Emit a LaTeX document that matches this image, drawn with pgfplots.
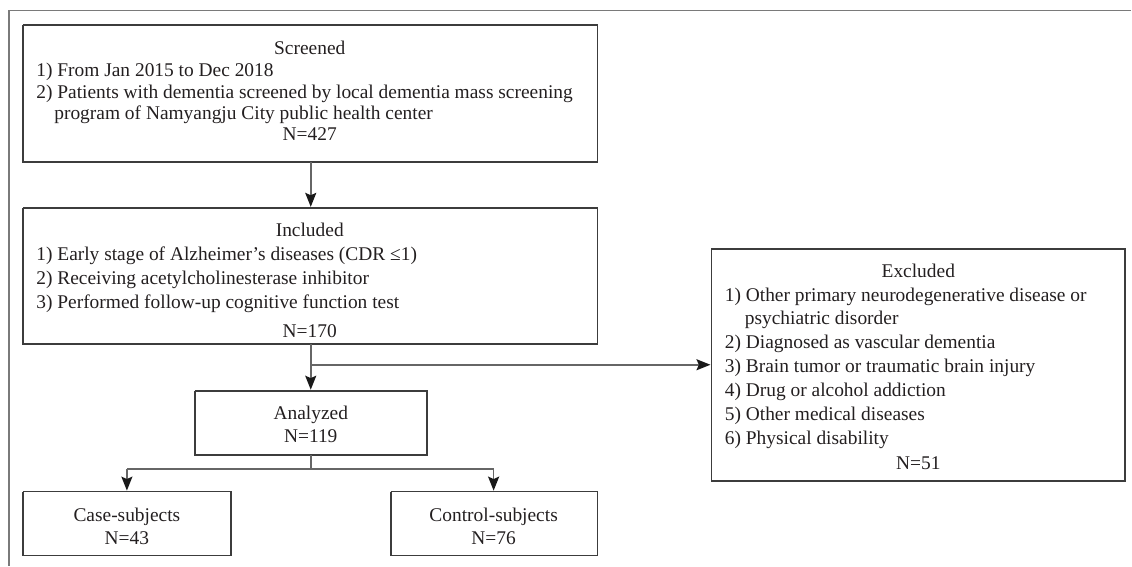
\documentclass[border=0pt]{standalone}
\usepackage{pgfplots}
\pgfplotsset{compat=1.18}
\usepackage{fontspec}
\setmainfont{Liberation Serif}
\usetikzlibrary{arrows.meta}
\definecolor{boxc}{HTML}{3C3C3C}
\definecolor{linec}{HTML}{666666}
\definecolor{framec}{HTML}{7A7A7A}
\definecolor{txt}{HTML}{231F20}
\newcommand{\fs}{\fontsize{9.75}{11}\selectfont}
\tikzset{
  boxstyle/.style={draw=boxc, line width=0.85bp, mark=none, line join=miter},
  conn/.style={draw=linec, line width=0.85bp, mark=none},
  arr/.style={draw=linec, line width=0.85bp, mark=none, -{Stealth[length=7bp,width=5.5bp,inset=1.2bp,color=black!90]}},
  txtn/.style={font=\fs, text=txt, inner sep=0pt},
}
\begin{document}
\begin{tikzpicture}
\begin{axis}[
  width=566bp, height=283bp, scale only axis,
  xmin=0, xmax=1132, ymin=0, ymax=566, y dir=reverse,
  hide axis, clip=false,
]
\path (axis cs:0,0) rectangle (axis cs:1132,566);
% outer frame
\addplot[draw=framec, line width=0.85bp, mark=none] coordinates {(9,566) (9,10.5) (1132,10.5)};
% boxes
\addplot[boxstyle] coordinates {(23,25) (598,25) (598,162) (23,162) (23,25)};
\addplot[boxstyle] coordinates {(23,208) (598,208) (598,344) (23,344) (23,208)};
\addplot[boxstyle] coordinates {(712,249) (1126,249) (1126,481) (712,481) (712,249)};
\addplot[boxstyle] coordinates {(195,391) (427,391) (427,455) (195,455) (195,391)};
\addplot[boxstyle] coordinates {(23,492) (231,492) (231,556) (23,556) (23,492)};
\addplot[boxstyle] coordinates {(391,492) (598,492) (598,556) (391,556) (391,492)};
% connectors
\addplot[arr] coordinates {(311,162) (311,207)};
\addplot[arr] coordinates {(311,344) (311,390)};
\addplot[arr] coordinates {(311,365) (711,365)};
\addplot[conn] coordinates {(311,455) (311,469)};
\addplot[conn] coordinates {(127,469) (494,469)};
\addplot[arr] coordinates {(127,469) (127,491)};
\addplot[arr] coordinates {(494,469) (494,491)};
% Screened
\node[txtn, anchor=base] at (axis cs:310,55) {Screened};
\node[txtn, anchor=base west] at (axis cs:36,77) {1) From Jan 2015 to Dec 2018};
\node[txtn, anchor=base west] at (axis cs:36,99) {2) Patients with dementia screened by local dementia mass screening};
\node[txtn, anchor=base west] at (axis cs:54,120) {program of Namyangju City public health center};
\node[txtn, anchor=base] at (axis cs:310,141) {N=427};
% Included
\node[txtn, anchor=base] at (axis cs:310,237) {Included};
\node[txtn, anchor=base west] at (axis cs:36,261) {1) Early stage of Alzheimer’s diseases (CDR ≤1)};
\node[txtn, anchor=base west] at (axis cs:36,285) {2) Receiving acetylcholinesterase inhibitor};
\node[txtn, anchor=base west] at (axis cs:36,309) {3) Performed follow-up cognitive function test};
\node[txtn, anchor=base] at (axis cs:310,338) {N=170};
% Excluded
\node[txtn, anchor=base] at (axis cs:919,278) {Excluded};
\node[txtn, anchor=base west] at (axis cs:725,302) {1) Other primary neurodegenerative disease or};
\node[txtn, anchor=base west] at (axis cs:745,325) {psychiatric disorder};
\node[txtn, anchor=base west] at (axis cs:725,349) {2) Diagnosed as vascular dementia};
\node[txtn, anchor=base west] at (axis cs:725,373) {3) Brain tumor or traumatic brain injury};
\node[txtn, anchor=base west] at (axis cs:725,397) {4) Drug or alcohol addiction};
\node[txtn, anchor=base west] at (axis cs:725,421) {5) Other medical diseases};
\node[txtn, anchor=base west] at (axis cs:725,445) {6) Physical disability};
\node[txtn, anchor=base] at (axis cs:919,470) {N=51};
% Analyzed
\node[txtn, anchor=base] at (axis cs:311,420) {Analyzed};
\node[txtn, anchor=base] at (axis cs:311,443) {N=119};
% Case / Control
\node[txtn, anchor=base] at (axis cs:127,522) {Case-subjects};
\node[txtn, anchor=base] at (axis cs:127,545) {N=43};
\node[txtn, anchor=base] at (axis cs:494,522) {Control-subjects};
\node[txtn, anchor=base] at (axis cs:494,545) {N=76};
\end{axis}
\end{tikzpicture}
\end{document}
